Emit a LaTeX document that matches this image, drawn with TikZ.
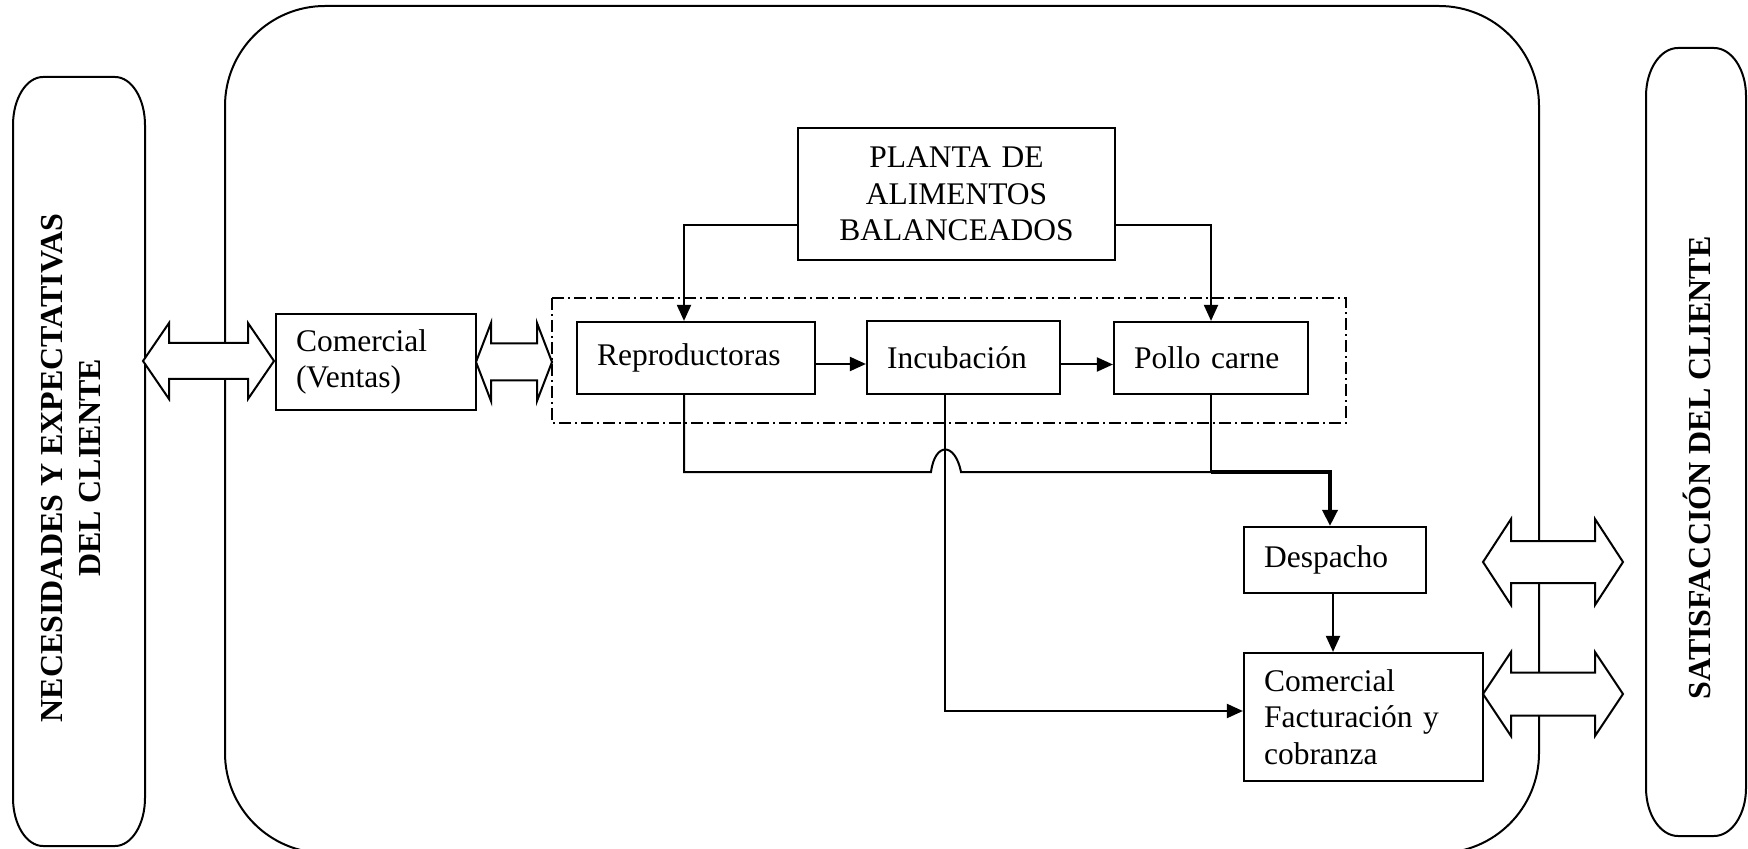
\documentclass[tikz,border=0pt]{standalone}
\usepackage{fontspec}
\setmainfont{Liberation Serif}
\usetikzlibrary{arrows.meta}

% rounded side panel with elliptical corners: x0 y0 x1 y1 rx ry
\newcommand{\drawpill}[6]{%
  \draw[frame] ({#1},{#2+#6}) .. controls ({#1},{#2+0.448*#6}) and ({#1+0.448*#5},{#2}) .. ({#1+#5},{#2})
    -- ({#3-#5},{#2}) .. controls ({#3-0.448*#5},{#2}) and ({#3},{#2+0.448*#6}) .. ({#3},{#2+#6})
    -- ({#3},{#4-#6}) .. controls ({#3},{#4-0.448*#6}) and ({#3-0.448*#5},{#4}) .. ({#3-#5},{#4})
    -- ({#1+#5},{#4}) .. controls ({#1+0.448*#5},{#4}) and ({#1},{#4-0.448*#6}) .. ({#1},{#4-#6}) -- cycle;}

% outlined two-headed block arrow: left tip, right tip, centre y, head length, head half-height, shaft half-height
\newcommand{\dblarrow}[6]{%
  \draw[bigarrow] ({#1},{#3}) -- ({#1+#4},{#3-#5}) -- ({#1+#4},{#3-#6}) -- ({#2-#4},{#3-#6})
    -- ({#2-#4},{#3-#5}) -- ({#2},{#3}) -- ({#2-#4},{#3+#5}) -- ({#2-#4},{#3+#6})
    -- ({#1+#4},{#3+#6}) -- ({#1+#4},{#3+#5}) -- cycle;}

\begin{document}
\begin{tikzpicture}[x=0.5pt,y=-0.5pt,
  every node/.style={font=\fontsize{15.75pt}{18.25pt}\selectfont},
  box/.style={draw, line width=1.1pt, fill=white, inner xsep=10pt, inner ysep=0pt, align=left},
  conn/.style={line width=1pt},
  arr/.style={conn, -{Triangle[length=8pt,width=7pt]}},
  heavy/.style={line width=1.8pt, -{Triangle[length=8pt,width=7.5pt]}},
  frame/.style={line width=1pt},
  bigarrow/.style={draw, line width=1pt, fill=white, line join=miter},
  dashdot/.style={line width=0.9pt, dash pattern=on 6pt off 2pt on 1pt off 2pt},
  side/.style={rotate=90, align=center, font=\fontsize{16pt}{19pt}\selectfont\bfseries}
]
\useasboundingbox (0,0) rectangle (1748,849);

% company frame and the two customer panels
\draw[frame, rounded corners=50pt] (225,6) rectangle (1539,853);
\drawpill{13}{77}{145}{846}{30}{48}
\drawpill{1646}{48}{1746}{836}{32}{48}

\node[side] (need) at (71,468) {NECESIDADES Y EXPECTATIVAS\\DEL CLIENTE};
\node[side] (sat) at (1697,468) {SATISFACCIÓN DEL CLIENTE};

% production group
\draw[dashdot] (552,298) rectangle (1346,423);

% process boxes
\node[box, align=center, minimum width=158.5pt, minimum height=66pt, text width=138.5pt] (planta) at (956.5,194)
  {PLANTA DE\\ALIMENTOS\\BALANCEADOS};
\node[box, minimum width=100pt, minimum height=48pt, text width=80pt] (comv) at (376,362)
  {Comercial\\(Ventas)};
\node[box, minimum width=119pt, minimum height=36pt, text width=99pt] (repro) at (696,358) {Reproductoras};
\node[box, minimum width=96.5pt, minimum height=36.5pt, text width=76.5pt] (incub) at (963.5,357.5) {Incubación};
\node[box, minimum width=97pt, minimum height=36pt, text width=77pt] (pollo) at (1211,358) {Pollo carne};
\node[box, minimum width=91pt, minimum height=33pt, text width=71pt] (desp) at (1335,560) {Despacho};
\node[box, minimum width=119.5pt, minimum height=64pt, text width=99.5pt] (comf) at (1363.5,717)
  {Comercial\\Facturación y\\cobranza};

% feed supply
\draw[arr] ([yshift=-15.5pt]planta.west) -| ([xshift=-6pt]repro.north);
\draw[arr] ([yshift=-15.5pt]planta.east) -| (pollo.north);

% production chain
\draw[arr] ([yshift=-3pt]repro.east) -- ([yshift=-3pt]repro.east -| incub.west);
\draw[arr] ([yshift=-3.5pt]incub.east) -- ([yshift=-3.5pt]incub.east -| pollo.west);

% collection line to dispatch, hopping over the hatchery line
\coordinate (hop) at (945,472);
\coordinate (busR) at (pollo.south |- hop);
\draw[conn] ([xshift=-6pt]repro.south) |- ([xshift=-7pt]hop)
  .. controls ([xshift=-5pt,yshift=15pt]hop) and ([xshift=5pt,yshift=15pt]hop) .. ([xshift=8pt]hop) -- (busR);
\draw[conn] (pollo.south) -- (busR);
\draw[heavy] (busR) -| ([xshift=-2.5pt]desp.north);
\draw[arr] (incub.south -| hop) |- ([yshift=3pt]comf.west);
\draw[arr] ([xshift=-1pt]desp.south) -- ([xshift=-1pt]desp.south |- comf.north);

% customer exchanges
\dblarrow{143}{274}{361}{26}{38}{18}
\dblarrow{476}{552}{362}{15}{39}{18.5}
\dblarrow{1483}{1623}{562}{28}{43}{21}
\dblarrow{1483}{1623}{694}{28}{42}{21.5}

\end{tikzpicture}
\end{document}
